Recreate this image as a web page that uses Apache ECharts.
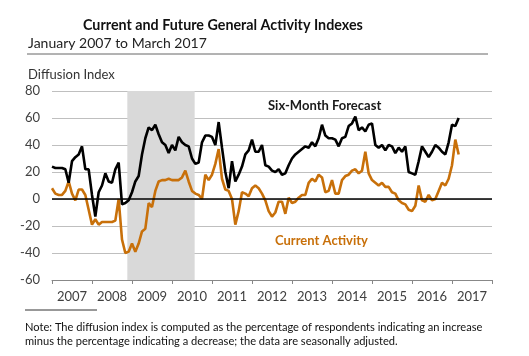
<!DOCTYPE html>
<html><head><meta charset="utf-8">
<script src="https://cdn.jsdelivr.net/npm/echarts@6/dist/echarts.min.js"></script>
<style>html,body{margin:0;padding:0;background:#fff}#c{width:529px;height:356px}</style>
</head><body><div id="c"></div>
<script>
var years = ['2007','2008','2009','2010','2011','2012','2013','2014','2015','2016','2017'];
var yTicks = [-60,-40,-20,0,20,40,60,80];
// monthly values, Jan 2007 .. Mar 2017
var forecast = [24,23,23,23,22,12,28,31,33,39,22,22,
  3,-13,5,10,19,13,12,22,27,-4,-3,-1,
  5,13,17,33,45,53,51,55,48,42,40,34,
  40,36,46,42,40,39,30,26,27,42,47,47,
  46,40,57,38,20,8,28,13,18,24,33,36,
  44,35,35,40,25,24,21,20,22,18,19,25,
  30,33,35,37,39,38,42,39,45,55,47,45,
  45,44,39,45,46,54,56,61,51,53,50,55,
  56,40,38,40,36,40,39,34,38,35,39,20,
  19,18,28,39,35,31,35,40,38,35,33,42,
  55,54,60];
var current = [8,4,3,3,6,13,4,-1,7,7,3,-8,
  -19,-15,-19,-17,-17,-17,-17,-16,0,-30,-40,-39,
  -33,-39,-33,-24,-22,-3,-6,6,13,14,14,15,
  14,14,14,16,21,13,6,4,3,0,18,14,
  18,26,37,15,7,6,0,-19,-9,5,4,2,
  8,10,8,4,-1,-9,-13,-10,-2,-2,-11,1,
  -3,-2,1,3,3,12,15,13,18,16,5,6,
  14,4,4,14,17,18,21,22,19,21,35,19,
  14,12,10,12,9,9,5,4,-1,-3,-4,-8,
  -9,-5,10,-1,-2,3,-1,0,6,12,10,15,
  25,44,33];
// shaded period, in months from Jan 2007
var shade = [22.6, 42.8];

function pairs(arr){ return arr.map(function(v,i){ return [i, v]; }); }

var chart = echarts.init(document.getElementById('c'), null, {renderer:'canvas'});
var F = 'Lato, "Open Sans", sans-serif';
chart.setOption({
  animation:false,
  grid:{left:52, right:37, top:91, bottom:76, containLabel:false},
  xAxis:[
    {type:'value', min:0, max:132, show:false},
    {type:'category', data:years, boundaryGap:true, position:'bottom',
     axisLine:{show:true, lineStyle:{color:'#888', width:1}},
     axisTick:{show:true, interval:0, length:4, lineStyle:{color:'#888'}},
     axisLabel:{color:'#404040', fontSize:13, fontFamily:F, margin:10},
     splitLine:{show:false}}
  ],
  yAxis:{type:'value', min:-60, max:80, interval:20,
    axisLine:{show:false}, axisTick:{show:false},
    axisLabel:{color:'#404040', fontSize:13, fontFamily:F, margin:12},
    splitLine:{show:true, lineStyle:{color:'#bfbfbf', width:1}}},
  series:[
    {type:'line', xAxisIndex:0, data:pairs(current), showSymbol:false, z:3,
     lineStyle:{color:'#c8700a', width:2.6}, itemStyle:{color:'#c8700a'},
     markArea:{silent:true, itemStyle:{color:'#d9d9d9'}, data:[[{xAxis:shade[0]},{xAxis:shade[1]}]]},
     markLine:{silent:true, symbol:'none', label:{show:false}, lineStyle:{color:'#000', width:1.5, type:'solid'}, data:[{yAxis:0}]}
    },
    {type:'line', xAxisIndex:0, data:pairs(forecast), showSymbol:false, z:4,
     lineStyle:{color:'#000', width:2.6}, itemStyle:{color:'#000'}}
  ],
  graphic:[
    {type:'text', left:83, top:18, style:{text:'Current and Future General Activity Indexes', font:'bold 14.3px '+F, fill:'#111'}},
    {type:'text', left:28, top:36, style:{text:'January 2007 to March 2017', font:'14px '+F, fill:'#222'}},
    {type:'line', shape:{x1:27, y1:54, x2:488, y2:54}, style:{stroke:'#666', lineWidth:1}},
    {type:'text', left:28, top:68, style:{text:'Diffusion Index', font:'13px '+F, fill:'#333'}},
    {type:'text', left:268, top:99, z:10, style:{text:'Six-Month Forecast', font:'bold 13px '+F, fill:'#1a1a1a'}},
    {type:'text', left:275, top:234, z:10, style:{text:'Current Activity', font:'bold 13px '+F, fill:'#c8700a'}},
    {type:'line', shape:{x1:25, y1:310, x2:97, y2:310}, style:{stroke:'#333', lineWidth:1}},
    {type:'text', left:25, top:322, style:{text:'Note: The diffusion index is computed as the percentage of respondents indicating an increase', font:'11.1px '+F, fill:'#111'}},
    {type:'text', left:25, top:336, style:{text:'minus the percentage indicating a decrease; the data are seasonally adjusted.', font:'11.1px '+F, fill:'#111'}}
  ]
});
</script></body></html>
